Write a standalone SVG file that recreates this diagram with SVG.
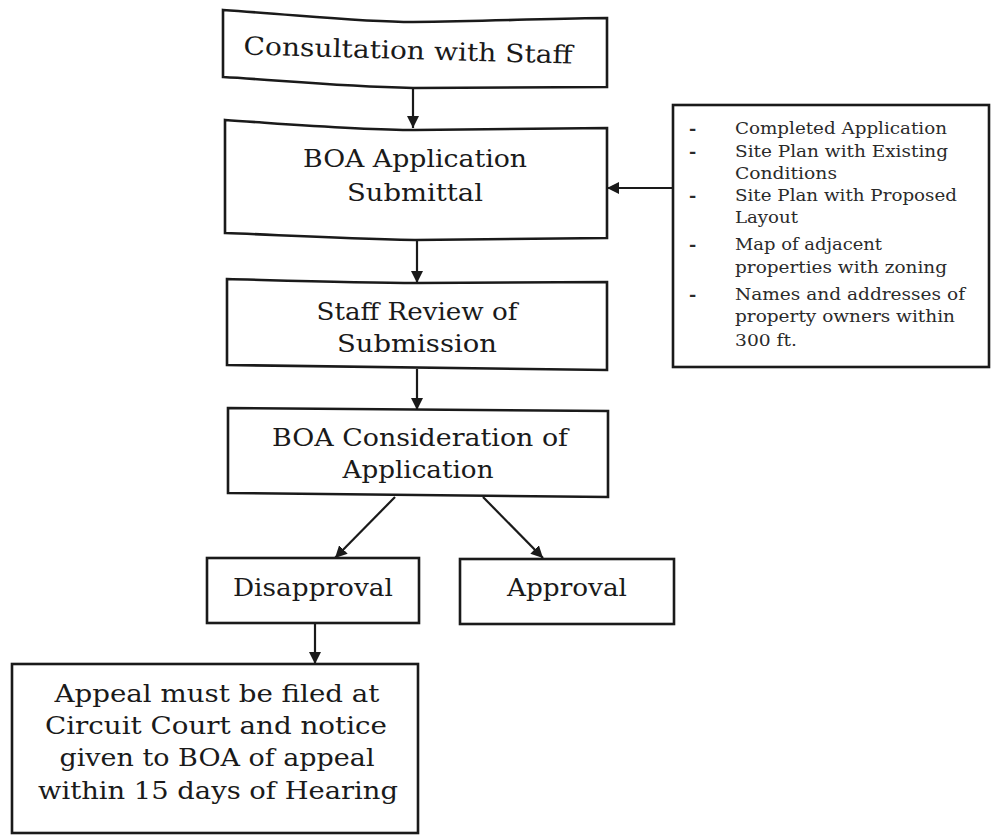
<svg xmlns="http://www.w3.org/2000/svg" width="992" height="837" viewBox="0 0 992 837">
<defs>
<style>
.box{fill:#fff;stroke:#1a1a1a;stroke-width:2.6;stroke-linejoin:miter}
.t{font-family:"DejaVu Serif","Liberation Serif",serif;font-size:25px;fill:#1a1a1a;text-anchor:middle}
.s{font-family:"DejaVu Serif","Liberation Serif",serif;font-size:17.5px;fill:#2a2a2a}
.d{font-family:"DejaVu Serif","Liberation Serif",serif;font-size:17.5px;font-weight:bold;fill:#2a2a2a}
.c{stroke:#1a1a1a;stroke-width:2.2;fill:none;marker-end:url(#ah)}
</style>
<marker id="ah" viewBox="0 0 12 12" refX="12" refY="6" markerWidth="12" markerHeight="12" orient="auto" markerUnits="userSpaceOnUse">
<path d="M0,0 L12,6 L0,12 Z" fill="#1a1a1a"/>
</marker>
</defs>
<rect width="992" height="837" fill="#fff"/>

<g id="connectors">
<line class="c" x1="413" y1="88" x2="413" y2="128"/>
<line class="c" x1="417" y1="240" x2="417" y2="283"/>
<line class="c" x1="417" y1="369" x2="417" y2="410"/>
<line class="c" x1="395" y1="497" x2="335" y2="558"/>
<line class="c" x1="483" y1="497" x2="543" y2="558"/>
<line class="c" x1="315" y1="624" x2="315" y2="664"/>
<line class="c" x1="673" y1="188" x2="607" y2="188"/>
</g>

<g id="consultation">
<path class="box" d="M223,10 C300,15 360,22 413,22 C500,21 560,18 607,18 L607,87 L413,88 C330,86 280,80 223,77 Z"/>
<text class="t" x="408" y="59" textLength="329" lengthAdjust="spacingAndGlyphs" transform="rotate(1.6 408 52)">Consultation with Staff</text>
</g>

<g id="submittal">
<path class="box" d="M225,120 C300,125 360,130 415,130 L607,128 L607,238 L415,240 C330,238 280,235 225,233 Z"/>
<text class="t" x="415" y="167" textLength="224" lengthAdjust="spacingAndGlyphs">BOA Application</text>
<text class="t" x="415" y="201" textLength="136" lengthAdjust="spacingAndGlyphs">Submittal</text>
</g>

<g id="review">
<path class="box" d="M227,279 C300,281 360,283 417,283 L607,282 L607,370 L227,365 Z"/>
<text class="t" x="417" y="320" textLength="201" lengthAdjust="spacingAndGlyphs">Staff Review of</text>
<text class="t" x="417" y="352" textLength="160" lengthAdjust="spacingAndGlyphs">Submission</text>
</g>

<g id="consideration">
<path class="box" d="M228,408 L608,411 L608,497 L228,493 Z"/>
<text class="t" x="420" y="446" textLength="296" lengthAdjust="spacingAndGlyphs">BOA Consideration of</text>
<text class="t" x="418" y="478" textLength="151" lengthAdjust="spacingAndGlyphs">Application</text>
</g>

<g id="disapproval">
<rect class="box" x="207" y="558" width="212" height="65"/>
<text class="t" x="313" y="596" textLength="160" lengthAdjust="spacingAndGlyphs">Disapproval</text>
</g>

<g id="approval">
<rect class="box" x="460" y="559" width="214" height="65"/>
<text class="t" x="567" y="596" textLength="120" lengthAdjust="spacingAndGlyphs">Approval</text>
</g>

<g id="appeal">
<rect class="box" x="12" y="664" width="406" height="169"/>
<text class="t" x="217" y="702" textLength="325" lengthAdjust="spacingAndGlyphs">Appeal must be filed at</text>
<text class="t" x="216" y="734" textLength="342" lengthAdjust="spacingAndGlyphs">Circuit Court and notice</text>
<text class="t" x="217" y="766" textLength="315" lengthAdjust="spacingAndGlyphs">given to BOA of appeal</text>
<text class="t" x="218" y="799" textLength="360" lengthAdjust="spacingAndGlyphs">within 15 days of Hearing</text>
</g>

<g id="requirements">
<rect class="box" x="673" y="105" width="316" height="262"/>
<text class="d" x="689" y="134">-</text>
<text class="s" x="735" y="134" textLength="212" lengthAdjust="spacingAndGlyphs">Completed Application</text>
<text class="d" x="689" y="157">-</text>
<text class="s" x="735" y="157" textLength="213" lengthAdjust="spacingAndGlyphs">Site Plan with Existing</text>
<text class="s" x="735" y="179" textLength="102" lengthAdjust="spacingAndGlyphs">Conditions</text>
<text class="d" x="689" y="201">-</text>
<text class="s" x="735" y="201" textLength="222" lengthAdjust="spacingAndGlyphs">Site Plan with Proposed</text>
<text class="s" x="735" y="223" textLength="63" lengthAdjust="spacingAndGlyphs">Layout</text>
<text class="d" x="689" y="250">-</text>
<text class="s" x="735" y="250" textLength="147" lengthAdjust="spacingAndGlyphs">Map of adjacent</text>
<text class="s" x="735" y="273" textLength="212" lengthAdjust="spacingAndGlyphs">properties with zoning</text>
<text class="d" x="689" y="300">-</text>
<text class="s" x="735" y="300" textLength="230" lengthAdjust="spacingAndGlyphs">Names and addresses of</text>
<text class="s" x="735" y="322" textLength="220" lengthAdjust="spacingAndGlyphs">property owners within</text>
<text class="s" x="735" y="346" textLength="62" lengthAdjust="spacingAndGlyphs">300 ft.</text>
</g>
</svg>
